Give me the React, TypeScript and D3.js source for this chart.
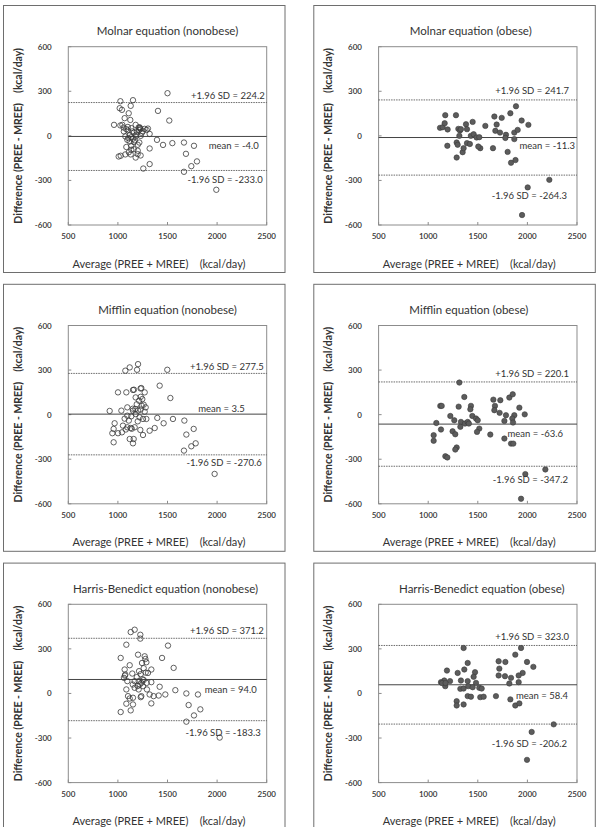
import React, { useEffect, useRef } from 'react';
import * as d3 from 'd3';

// Bland-Altman points: [average of PREE and MREE, PREE - MREE], kcal/day
const molnarNonobese: [number, number][] = [
    [1500, 287], [1025, 233], [1152, 240], [1129, 202], [1018, 186], [1041, 175], [1109, 152],
    [1404, 168], [1068, 119], [1125, 107], [1518, 103], [961, 74], [1025, 70], [1045, 74],
    [1058, 56], [1085, 45], [1102, 36], [1135, 52], [1179, 74], [1209, 56], [1229, 45],
    [1213, 40], [1222, 52], [1218, 58], [1270, 47], [1303, 49], [1290, 40], [1250, 30],
    [1320, 13], [1162, 22], [1119, 7], [1075, -4], [1135, -9], [1186, 7], [1095, -27],
    [1119, -38], [1162, -43], [1216, -45], [1135, -67], [1085, -75], [1135, -94], [1160, -90],
    [1199, -123], [1320, -85], [1394, -27], [1455, -61], [1549, -49], [1666, -45], [1767, -67],
    [1686, -121], [1797, -172], [1740, -204], [1666, -242], [1320, -190], [1256, -220],
    [1992, -363], [1008, -139], [1028, -134], [1075, -125], [1129, -125], [1179, -146],
    [1229, -132], [1200, -100], [1150, -20], [1105, -15], [1180, -5], [1240, 20], [1060, 30],
    [1100, 60], [1190, 30], [1145, 30], [1200, -60], [1110, -110], [1170, -30], [1230, 0]
];

const molnarObese: [number, number][] = [
    [1119, 54], [1146, 58], [1166, 85], [1172, 139], [1196, 43], [1193, -67], [1280, 139],
    [1304, 47], [1320, 36], [1314, 0], [1287, -45], [1297, -60], [1287, -146], [1347, -110],
    [1357, -83], [1381, 78], [1391, 45], [1391, -49], [1420, -55], [1430, 0], [1448, 94],
    [1458, 11], [1488, -11], [1515, -9], [1525, -83], [1505, -72], [1330, 45], [1576, 67],
    [1653, -83], [1667, 130], [1677, 34], [1690, 76], [1724, 22], [1741, 121], [1784, 7],
    [1778, -14], [1801, -108], [1828, 152], [1835, -181], [1868, 22], [1868, -22], [1880, -163],
    [1885, 199], [1902, 40], [1942, 103], [2010, 74], [2003, -347], [2221, -296], [1946, -533]
];

const mifflinNonobese: [number, number][] = [
    [1075, 296], [1119, 318], [1193, 302], [1203, 340], [1498, 302], [1421, 195], [1001, 150],
    [1085, 150], [1152, 166], [1162, 168], [1236, 179], [1229, 176], [1270, 150], [1529, 112],
    [1179, 116], [1213, 94], [1246, 105], [1260, 67], [1280, 49], [917, 25], [1035, 27],
    [1095, 49], [1152, 27], [1176, 38], [1203, 27], [1229, 34], [1095, -7], [1135, -11],
    [1179, 4], [1219, -18], [1253, -29], [1068, -27], [1287, -29], [1397, -22], [1461, -58],
    [1555, -29], [1670, -40], [967, -58], [957, -96], [944, -125], [1001, -125], [1041, -119],
    [1051, -74], [1095, -85], [1129, -90], [1140, -95], [1119, -164], [1159, -164], [1152, -193],
    [957, -186], [1226, -103], [1253, -137], [1320, -108], [1371, -90], [1764, -96], [1690, -134],
    [1784, -193], [1740, -213], [1666, -242], [1975, -399], [1169, -85], [1200, -45],
    [1110, -40], [1240, 60], [1190, 70], [1150, 40], [1230, 120], [1270, 20], [1080, -100]
];

const mifflinObese: [number, number][] = [
    [1314, 216], [1364, 119], [1122, 59], [1136, 59], [1307, 54], [1431, 59], [1425, 36],
    [1223, -9], [1263, -38], [1330, -49], [1324, -82], [1371, -60], [1398, -49], [1445, -9],
    [1482, -26], [1499, -38], [1515, -94], [1492, -116], [1082, -56], [1129, -100], [1055, -138],
    [1055, -176], [1246, -112], [1273, -132], [1287, -221], [1273, -235], [1173, -280],
    [1193, -288], [1626, -134], [1657, 101], [1673, 59], [1667, 30], [1727, 97], [1720, 12],
    [1784, -4], [1768, -161], [1818, 115], [1852, 137], [1868, -4], [1848, -26], [1855, -53],
    [1919, 47], [1973, 2], [1835, -195], [1858, -195], [1768, -42], [1979, -400], [2181, -369],
    [1936, -566], [1410, -60]
];

const harrisNonobese: [number, number][] = [
    [1129, 413], [1169, 429], [1226, 395], [1226, 369], [1085, 328], [1505, 322], [1028, 239],
    [1203, 261], [1270, 250], [1277, 232], [1287, 210], [1243, 205], [1445, 239], [1562, 172],
    [1119, 190], [1068, 161], [1145, 134], [1213, 150], [1303, 138], [1337, 161], [1075, 127],
    [1061, 105], [1095, 83], [1169, 83], [1209, 83], [1236, 71], [1290, 71], [1337, 76],
    [1169, 38], [1209, 27], [1253, 49], [1293, 27], [1421, 45], [1085, 27], [1579, 22],
    [1690, 0], [1807, -7], [1102, -18], [1119, -34], [1152, -29], [1236, -18], [1320, -7],
    [1360, -18], [1411, -14], [1478, -7], [1337, -67], [1085, -69], [1152, -74], [1028, -125],
    [1129, -114], [1713, -78], [1831, -107], [1767, -148], [1690, -190], [2026, -297],
    [1230, 130], [1260, 170], [1190, 110], [1250, 95], [1220, 60], [1280, 140], [1150, 60],
    [1230, -25], [1260, 90], [1200, 50], [1070, 120]
];

const harrisObese: [number, number][] = [
    [1357, 306], [1936, 306], [1878, 261], [1398, 205], [1710, 217], [1778, 212], [1996, 212],
    [2060, 179], [1189, 154], [1297, 138], [1364, 161], [1472, 143], [1717, 167], [1952, 138],
    [1912, 121], [1710, 121], [1774, 116], [1835, 105], [1458, 112], [1330, 87], [1162, 87],
    [1129, 76], [1172, 49], [1220, 83], [1398, 83], [1482, 71], [1515, 38], [1539, 33],
    [1912, 76], [1818, 67], [1324, 31], [1357, 33], [1404, 49], [1448, 42], [1398, -18],
    [1431, -22], [1525, -25], [1559, -22], [1683, -18], [1828, -40], [1878, -81], [1919, -67],
    [1287, -52], [1287, -81], [1357, -74], [2265, -208], [2043, -259], [1996, -447],
    [1140, 70], [1175, 70]
];

const titles = [
    'Molnar equation (nonobese)', 'Molnar equation (obese)',
    'Mifflin equation (nonobese)', 'Mifflin equation (obese)',
    'Harris-Benedict equation (nonobese)', 'Harris-Benedict equation (obese)'
];
const pointSets = [molnarNonobese, molnarObese, mifflinNonobese, mifflinObese, harrisNonobese, harrisObese];
const meanDiffs = [-4.0, -11.3, 3.5, -63.6, 94.0, 58.4];
const upperLimits = [224.2, 241.7, 277.5, 220.1, 371.2, 323.0];
const lowerLimits = [-233.0, -264.3, -270.6, -347.2, -183.3, -206.2];
const xTicks = [500, 1000, 1500, 2000, 2500];
const yTicks = [-600, -300, 0, 300, 600];

// label placement per panel: [dx from plot right, dy from line]
const upperLabelPos = [[-2, -4], [-8, -6], [-3, -3.5], [-8, -5], [-3, -4], [-8, -5]];
const meanLabelPos = [[-8, 13], [-2, 11.5], [-22, -2.5], [-14, 13], [-10, 13.5], [-9, 14]];
const lowerLabelPos = [[-4, 13], [-10, 24], [-5, 11], [-9, 17], [-6, 15], [-10, 23]];
const titleDx = [0, -7, 0, -9, -2, 4];

const FONT = 'Lato, "Open Sans", sans-serif';
const W = 600;
const H = 827;

const App = () => {
    const svgRef = useRef<SVGSVGElement>(null);

    useEffect(() => {
        const svg = d3.select(svgRef.current);
        svg.selectAll('*').remove();

        const colX = [3, 313.3];
        const rowY = [5, 283.8, 562.6];
        const panelW = 281.5;
        const panelH = 267;
        const plot = { left: 65.3, top: 41.7, width: 198.4, height: 178.3 };

        const x = d3.scaleLinear().domain([500, 2500]).range([0, plot.width]);
        const y = d3.scaleLinear().domain([-600, 600]).range([plot.height, 0]);

        pointSets.forEach((pts, i) => {
            const col = i % 2;
            const row = Math.floor(i / 2);
            const obese = col === 1;
            const g = svg.append('g').attr('transform', `translate(${colX[col]},${rowY[row]})`);

            // outer frame
            g.append('rect')
                .attr('x', 0.5).attr('y', 0.5)
                .attr('width', panelW).attr('height', panelH)
                .attr('fill', '#fff')
                .attr('stroke', '#6e6e6e')
                .attr('stroke-width', 1);

            g.append('text')
                .attr('x', plot.left + plot.width / 2 + titleDx[i])
                .attr('y', 30)
                .attr('text-anchor', 'middle')
                .attr('font-family', FONT)
                .attr('font-size', 11.5)
                .attr('fill', '#333')
                .text(titles[i]);

            const p = g.append('g').attr('transform', `translate(${plot.left},${plot.top})`);

            p.append('rect')
                .attr('width', plot.width).attr('height', plot.height)
                .attr('fill', 'none')
                .attr('stroke', '#8c8c8c')
                .attr('stroke-width', 1);

            // inside tick marks
            p.selectAll('.ytick').data(yTicks).enter().append('line')
                .attr('x1', 0).attr('x2', 3)
                .attr('y1', d => y(d)).attr('y2', d => y(d))
                .attr('stroke', '#8c8c8c');
            p.selectAll('.xtick').data(xTicks).enter().append('line')
                .attr('x1', d => x(d)).attr('x2', d => x(d))
                .attr('y1', plot.height).attr('y2', plot.height - 3)
                .attr('stroke', '#8c8c8c');

            p.selectAll('.ylab').data(yTicks).enter().append('text')
                .attr('x', -16.6)
                .attr('y', d => y(d) + 3)
                .attr('text-anchor', 'end')
                .attr('font-family', FONT)
                .attr('font-size', 8)
                .attr('font-weight', 600)
                .attr('fill', '#333')
                .text(d => d);
            p.selectAll('.xlab').data(xTicks).enter().append('text')
                .attr('x', d => x(d))
                .attr('y', plot.height + 14)
                .attr('text-anchor', 'middle')
                .attr('font-family', FONT)
                .attr('font-size', 8)
                .attr('font-weight', 600)
                .attr('fill', '#333')
                .text(d => d);

            // limits of agreement and mean difference
            [upperLimits[i], lowerLimits[i]].forEach(v => {
                p.append('line')
                    .attr('x1', 0).attr('x2', plot.width)
                    .attr('y1', y(v)).attr('y2', y(v))
                    .attr('stroke', '#444')
                    .attr('stroke-width', 0.8)
                    .attr('stroke-dasharray', '1.5,1');
            });
            p.append('line')
                .attr('x1', 0).attr('x2', plot.width)
                .attr('y1', y(meanDiffs[i])).attr('y2', y(meanDiffs[i]))
                .attr('stroke', '#444')
                .attr('stroke-width', 1);

            p.selectAll('.pt').data(pts).enter().append('circle')
                .attr('cx', d => x(d[0]))
                .attr('cy', d => y(d[1]))
                .attr('r', 2.7)
                .attr('fill', obese ? '#5c5c5c' : 'none')
                .attr('stroke', '#3a3a3a')
                .attr('stroke-width', obese ? 0.6 : 0.8);

            const labels: [string, number, number[]][] = [
                [`+1.96 SD = ${upperLimits[i].toFixed(1)}`, upperLimits[i], upperLabelPos[i]],
                [`mean = ${meanDiffs[i].toFixed(1)}`, meanDiffs[i], meanLabelPos[i]],
                [`-1.96 SD = ${lowerLimits[i].toFixed(1)}`, lowerLimits[i], lowerLabelPos[i]]
            ];
            labels.forEach(([txt, v, pos]) => {
                p.append('text')
                    .attr('x', plot.width + pos[0])
                    .attr('y', y(v) + pos[1])
                    .attr('text-anchor', 'end')
                    .attr('font-family', FONT)
                    .attr('font-size', 9.5)
                    .attr('fill', '#333')
                    .text(txt);
            });

            g.append('text')
                .attr('x', plot.left + plot.width / 2 - 8.5)
                .attr('y', 262.5)
                .attr('text-anchor', 'middle')
                .attr('font-family', FONT)
                .attr('font-size', 11)
                .attr('fill', '#333')
                .attr('xml:space', 'preserve')
                .text('Average (PREE + MREE)    (kcal/day)');

            g.append('text')
                .attr('transform', `translate(19,${plot.top + plot.height / 2}) rotate(-90)`)
                .attr('text-anchor', 'middle')
                .attr('font-family', FONT)
                .attr('font-size', 10.5)
                .attr('font-weight', 700)
                .attr('fill', '#333')
                .attr('xml:space', 'preserve')
                .text('Difference (PREE - MREE)    (kcal/day)');
        });
    }, []);

    return (
        <svg
            ref={svgRef}
            width={W}
            height={H}
            style={{ position: 'absolute', left: 0, top: 0, background: '#fff' }}
        />
    );
};

export default App;
